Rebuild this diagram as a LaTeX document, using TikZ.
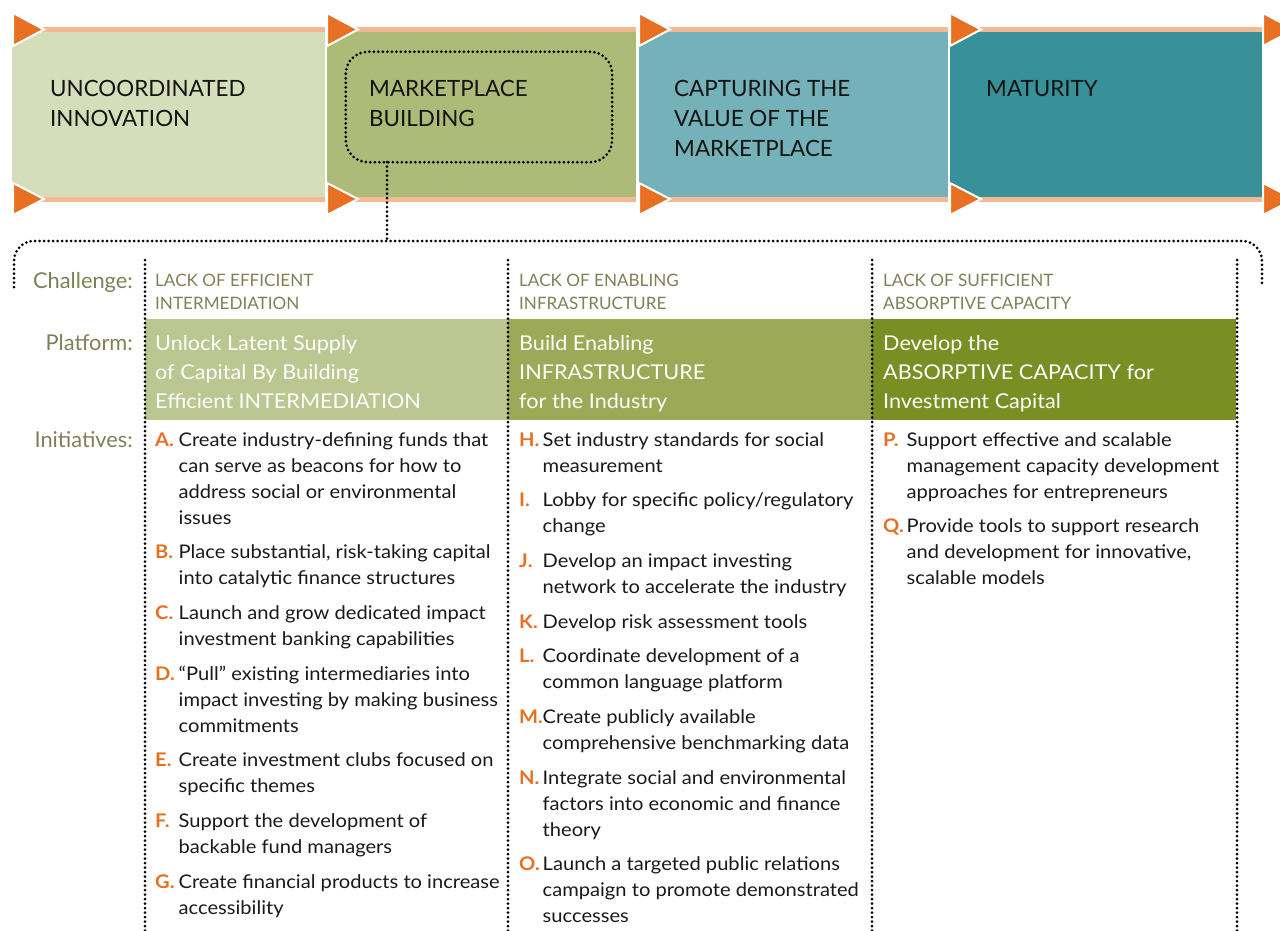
\documentclass[tikz,border=0pt]{standalone}
\usepackage{fontspec}
\setmainfont{Lato}
\newfontfamily\widefont[FakeStretch=1.07]{Lato}
\newfontfamily\platfont[FakeStretch=1.06]{Lato}
\usetikzlibrary{calc}
\definecolor{bandA}{HTML}{D5DDBA}
\definecolor{bandB}{HTML}{AEBA77}
\definecolor{bandC}{HTML}{74B1B8}
\definecolor{bandD}{HTML}{389098}
\definecolor{orng}{HTML}{E87022}
\definecolor{strip}{HTML}{F3B894}
\definecolor{olivetx}{HTML}{7E8055}
\definecolor{platA}{HTML}{BCC690}
\definecolor{platB}{HTML}{9CAA57}
\definecolor{platC}{HTML}{7A8F23}
\newcommand\textlines[6]{%
  \foreach \ln [count=\k] in {#6} {
    \node[#5, anchor=base west] (#1-\k) at (#2, {#3+(\k-1)*#4}) {\ln};
  }%
}
\newcommand\initm[5]{%
  \node[letr, anchor=base west] (#1) at (#2,#3) {#4};
  \textlines{#1t}{#2+23.5}{#3}{26}{itm}{#5}%
}
\tikzset{
  bandtext/.style={inner sep=0pt, text=black!92, font=\fontsize{22.4}{30}\selectfont},
  rowlab/.style={inner sep=0pt, text=olivetx, font=\fontsize{21.8}{25}\selectfont},
  chal/.style={inner sep=0pt, text=olivetx, font=\fontsize{17.1}{22}\selectfont},
  plat/.style={inner sep=0pt, text=white, font=\platfont\fontsize{20.4}{29}\selectfont},
  letr/.style={inner sep=0pt, text=orng, font=\widefont\bfseries\fontsize{18.8}{26}\selectfont},
  itm/.style={inner sep=0pt, text=black!90, font=\widefont\fontsize{18.8}{26}\selectfont},
  tri/.style={fill=orng, draw=white, line width=2pt, line join=miter},
  dots/.style={line width=3pt, line cap=round, dash pattern=on 0pt off 4.5pt},
}
\begin{document}
\begin{tikzpicture}[x=1pt, y=-1pt]
\useasboundingbox (0,0) rectangle (1280,930);
% --- stage band ---
\foreach \xa/\xb/\c [count=\i] in {12/325/bandA, 327/636/bandB, 639/948/bandC, 950/1262/bandD} {
  \fill[strip] (\xa,27) rectangle (\xb,32);
  \fill[strip] (\xa,197) rectangle (\xb,202);
  \fill[\c] (\xa,32) rectangle (\xb,197);
}
\foreach \x in {13, 327, 639, 950, 1263} {
  \draw[tri] (\x,13) -- (\x,46) -- (\x+31,29.5) -- cycle;
  \draw[tri] (\x,183) -- (\x,215) -- (\x+31,199) -- cycle;
}
\textlines{s1}{50}{96}{30}{bandtext}{UNCOORDINATED, INNOVATION}
\textlines{s2}{369}{96}{30}{bandtext}{MARKETPLACE, BUILDING}
\textlines{s3}{674}{96}{30}{bandtext}{CAPTURING THE, VALUE OF THE, MARKETPLACE}
\textlines{s4}{986}{96}{30}{bandtext}{MATURITY}
% highlight around marketplace building
\node[draw=none, minimum width=266pt, minimum height=110pt, inner sep=0pt] (hl) at (479,107) {};
\draw[dots, rounded corners=22pt] (hl.north west) rectangle (hl.south east);
\coordinate (hlb) at (387,162);
\coordinate (brk) at (387,241);
\draw[dots] (hlb) -- (brk);
\coordinate (bl) at (14,287);
\coordinate (br) at (1262,287);
\draw[dots, rounded corners=20pt] (bl) -- (14,241) -- (1262,241) -- (br);
% --- platform boxes ---
\fill[platA] (145,319) rectangle (508,420);
\fill[platB] (508,319) rectangle (872,420);
\fill[platC] (872,319) rectangle (1236,420);
% column separators
\foreach \x in {145, 508, 872, 1237} {
  \draw[dots] (\x,260) -- (\x,932);
}
% row labels
\node[rowlab, anchor=base east] (lc) at (133,288) {Challenge:};
\node[rowlab, anchor=base east] (lp) at (133,350) {Platform:};
\node[rowlab, anchor=base east] (li) at (133,447) {Initiatives:};
% challenge texts
\textlines{c1}{155}{286}{23}{chal}{LACK OF EFFICIENT, INTERMEDIATION}
\textlines{c2}{519}{286}{23}{chal}{LACK OF ENABLING, INFRASTRUCTURE}
\textlines{c3}{883}{286}{23}{chal}{LACK OF SUFFICIENT, ABSORPTIVE CAPACITY}
% platform texts
\textlines{p1}{155}{350}{29}{plat}{Unlock Latent Supply, of Capital By Building, Efficient INTERMEDIATION}
\textlines{p2}{519}{350}{29}{plat}{Build Enabling, INFRASTRUCTURE, for the Industry}
\textlines{p3}{883}{350}{29}{plat}{Develop the, ABSORPTIVE CAPACITY for, Investment Capital}
% initiatives column 1
\initm{iA}{155}{446}{A.}{Create industry-defining funds that, can serve as beacons for how to, address social or environmental, issues}
\initm{iB}{155}{558.7}{B.}{{Place substantial, risk-taking capital}, into catalytic finance structures}
\initm{iC}{155}{619.4}{C.}{Launch and grow dedicated impact, investment banking capabilities}
\initm{iD}{155}{680.1}{D.}{“Pull” existing intermediaries into, impact investing by making business, commitments}
\initm{iE}{155}{766.8}{E.}{Create investment clubs focused on, specific themes}
\initm{iF}{155}{827.5}{F.}{Support the development of, backable fund managers}
\initm{iG}{155}{888.2}{G.}{Create financial products to increase, accessibility}
% column 2
\initm{iH}{519}{446}{H.}{Set industry standards for social, measurement}
\initm{iI}{519}{506.7}{I.}{Lobby for specific policy/regulatory, change}
\initm{iJ}{519}{567.4}{J.}{Develop an impact investing, network to accelerate the industry}
\initm{iK}{519}{628.1}{K.}{Develop risk assessment tools}
\initm{iL}{519}{662.8}{L.}{Coordinate development of a, common language platform}
\initm{iM}{519}{723.5}{M.}{Create publicly available, comprehensive benchmarking data}
\initm{iN}{519}{784.2}{N.}{Integrate social and environmental, factors into economic and finance, theory}
\initm{iO}{519}{870.9}{O.}{Launch a targeted public relations, campaign to promote demonstrated, successes}
% column 3
\initm{iP}{883}{446}{P.}{Support effective and scalable, management capacity development, approaches for entrepreneurs}
\initm{iQ}{883}{532.7}{Q.}{Provide tools to support research, {and development for innovative,}, scalable models}
\end{tikzpicture}
\end{document}
